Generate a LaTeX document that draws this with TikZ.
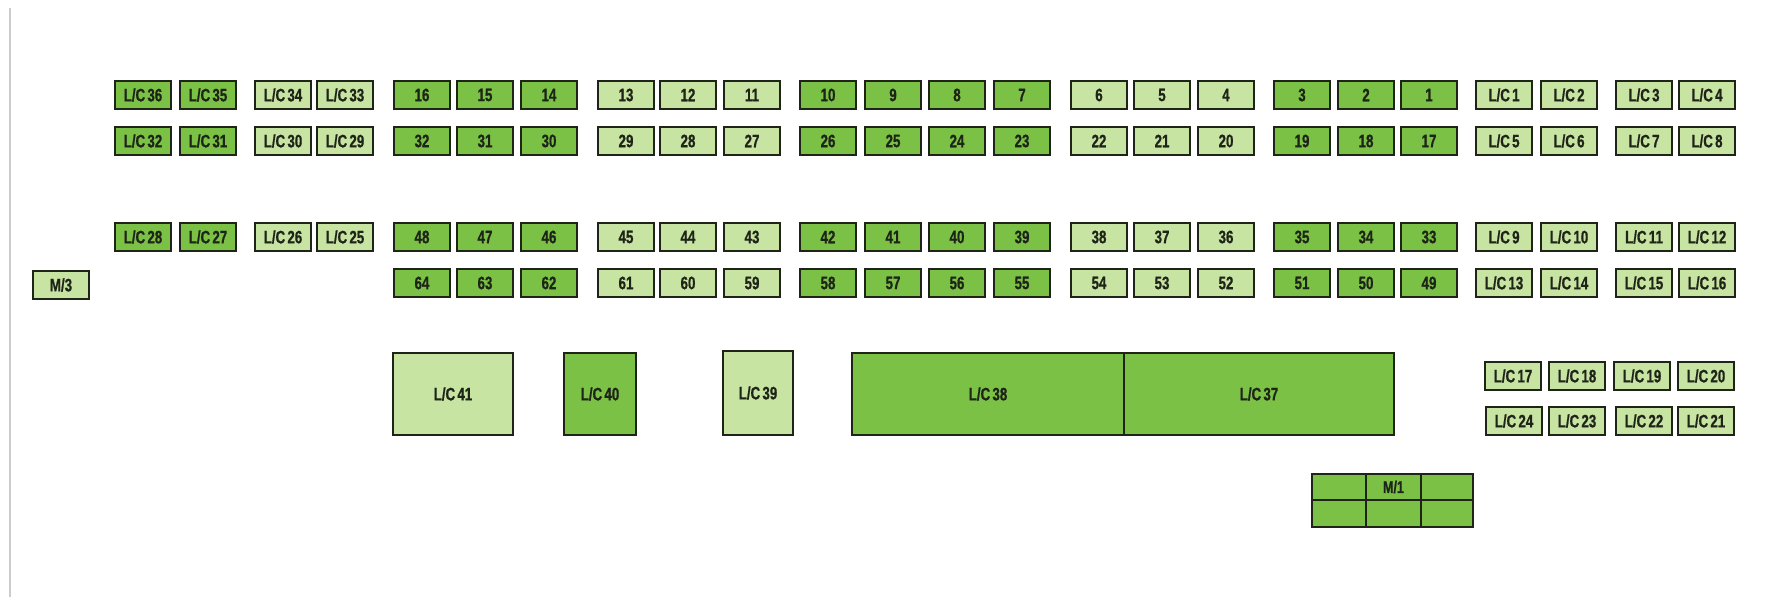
\documentclass[tikz,border=0pt]{standalone}
\usepackage{fontspec}
\setmainfont{Liberation Sans}[FakeStretch=0.74, WordSpace=0.6, BoldFeatures={FakeBold=0.8}]
\definecolor{dk}{HTML}{7BC145}
\definecolor{lt}{HTML}{C8E4A2}
\definecolor{ink}{HTML}{1E2418}
\tikzset{
  fbox/.style={draw=ink, line width=2pt, anchor=north west, minimum width=56pt, minimum height=28pt,
    inner sep=0pt, text=ink, font=\fontsize{18}{19}\selectfont\bfseries},
  bigbox/.style={draw=ink, line width=2pt, anchor=north west, inner sep=0pt, text=ink,
    font=\fontsize{18}{19}\selectfont\bfseries},
  cell/.style={draw=ink, line width=2pt, anchor=north west, inner sep=0pt, fill=dk, text=ink,
    font=\fontsize{17}{18}\selectfont\bfseries}
}
\newcommand\fb[5]{\node[fbox,fill=#4] (#1) at (#2,#3) {#5};}
\begin{document}
\begin{tikzpicture}[x=1pt,y=-1pt]
\useasboundingbox (0,0) rectangle (1782,597);
\draw[gray!40, line width=1.2pt] (10,8) -- (10,597);
% row 1
\fb{lc36}{114}{80}{dk}{L/C 36}
\fb{lc35}{179}{80}{dk}{L/C 35}
\fb{lc34}{254}{80}{lt}{L/C 34}
\fb{lc33}{316}{80}{lt}{L/C 33}
\fb{f16}{393}{80}{dk}{16}
\fb{f15}{456}{80}{dk}{15}
\fb{f14}{520}{80}{dk}{14}
\fb{f13}{597}{80}{lt}{13}
\fb{f12}{659}{80}{lt}{12}
\fb{f11}{723}{80}{lt}{11}
\fb{f10}{799}{80}{dk}{10}
\fb{f9}{864}{80}{dk}{9}
\fb{f8}{928}{80}{dk}{8}
\fb{f7}{993}{80}{dk}{7}
\fb{f6}{1070}{80}{lt}{6}
\fb{f5}{1133}{80}{lt}{5}
\fb{f4}{1197}{80}{lt}{4}
\fb{f3}{1273}{80}{dk}{3}
\fb{f2}{1337}{80}{dk}{2}
\fb{f1}{1400}{80}{dk}{1}
\fb{lc1}{1475}{80}{lt}{L/C 1}
\fb{lc2}{1540}{80}{lt}{L/C 2}
\fb{lc3}{1615}{80}{lt}{L/C 3}
\fb{lc4}{1678}{80}{lt}{L/C 4}
% row 2
\fb{lc32}{114}{126}{dk}{L/C 32}
\fb{lc31}{179}{126}{dk}{L/C 31}
\fb{lc30}{254}{126}{lt}{L/C 30}
\fb{lc29}{316}{126}{lt}{L/C 29}
\fb{f32}{393}{126}{dk}{32}
\fb{f31}{456}{126}{dk}{31}
\fb{f30}{520}{126}{dk}{30}
\fb{f29}{597}{126}{lt}{29}
\fb{f28}{659}{126}{lt}{28}
\fb{f27}{723}{126}{lt}{27}
\fb{f26}{799}{126}{dk}{26}
\fb{f25}{864}{126}{dk}{25}
\fb{f24}{928}{126}{dk}{24}
\fb{f23}{993}{126}{dk}{23}
\fb{f22}{1070}{126}{lt}{22}
\fb{f21}{1133}{126}{lt}{21}
\fb{f20}{1197}{126}{lt}{20}
\fb{f19}{1273}{126}{dk}{19}
\fb{f18}{1337}{126}{dk}{18}
\fb{f17}{1400}{126}{dk}{17}
\fb{lc5}{1475}{126}{lt}{L/C 5}
\fb{lc6}{1540}{126}{lt}{L/C 6}
\fb{lc7}{1615}{126}{lt}{L/C 7}
\fb{lc8}{1678}{126}{lt}{L/C 8}
% row 3
\fb{lc28}{114}{222}{dk}{L/C 28}
\fb{lc27}{179}{222}{dk}{L/C 27}
\fb{lc26}{254}{222}{lt}{L/C 26}
\fb{lc25}{316}{222}{lt}{L/C 25}
\fb{f48}{393}{222}{dk}{48}
\fb{f47}{456}{222}{dk}{47}
\fb{f46}{520}{222}{dk}{46}
\fb{f45}{597}{222}{lt}{45}
\fb{f44}{659}{222}{lt}{44}
\fb{f43}{723}{222}{lt}{43}
\fb{f42}{799}{222}{dk}{42}
\fb{f41}{864}{222}{dk}{41}
\fb{f40}{928}{222}{dk}{40}
\fb{f39}{993}{222}{dk}{39}
\fb{f38}{1070}{222}{lt}{38}
\fb{f37}{1133}{222}{lt}{37}
\fb{f36}{1197}{222}{lt}{36}
\fb{f35}{1273}{222}{dk}{35}
\fb{f34}{1337}{222}{dk}{34}
\fb{f33}{1400}{222}{dk}{33}
\fb{lc9}{1475}{222}{lt}{L/C 9}
\fb{lc10}{1540}{222}{lt}{L/C 10}
\fb{lc11}{1615}{222}{lt}{L/C 11}
\fb{lc12}{1678}{222}{lt}{L/C 12}
% row 4
\fb{m3}{32}{270}{lt}{M/3}
\fb{f64}{393}{268}{dk}{64}
\fb{f63}{456}{268}{dk}{63}
\fb{f62}{520}{268}{dk}{62}
\fb{f61}{597}{268}{lt}{61}
\fb{f60}{659}{268}{lt}{60}
\fb{f59}{723}{268}{lt}{59}
\fb{f58}{799}{268}{dk}{58}
\fb{f57}{864}{268}{dk}{57}
\fb{f56}{928}{268}{dk}{56}
\fb{f55}{993}{268}{dk}{55}
\fb{f54}{1070}{268}{lt}{54}
\fb{f53}{1133}{268}{lt}{53}
\fb{f52}{1197}{268}{lt}{52}
\fb{f51}{1273}{268}{dk}{51}
\fb{f50}{1337}{268}{dk}{50}
\fb{f49}{1400}{268}{dk}{49}
\fb{lc13}{1475}{268}{lt}{L/C 13}
\fb{lc14}{1540}{268}{lt}{L/C 14}
\fb{lc15}{1615}{268}{lt}{L/C 15}
\fb{lc16}{1678}{268}{lt}{L/C 16}
% big relays
\node[bigbox, fill=lt, minimum width=120pt, minimum height=82pt] (lc41) at (392,352) {L/C 41};
\node[bigbox, fill=dk, minimum width=72pt, minimum height=82pt] (lc40) at (563,352) {L/C 40};
\node[bigbox, fill=lt, minimum width=70pt, minimum height=84pt] (lc39) at (722,350) {L/C 39};
\node[bigbox, fill=dk, minimum width=272pt, minimum height=82pt] (lc38) at (851,352) {L/C 38};
\node[bigbox, fill=dk, minimum width=270pt, minimum height=82pt] (lc37) at (1123,352) {L/C 37};
% right lower cluster
\fb{lc17}{1484}{361}{lt}{L/C 17}
\fb{lc18}{1548}{361}{lt}{L/C 18}
\fb{lc19}{1613}{361}{lt}{L/C 19}
\fb{lc20}{1677}{361}{lt}{L/C 20}
\fb{lc24}{1485}{406}{lt}{L/C 24}
\fb{lc23}{1548}{406}{lt}{L/C 23}
\fb{lc22}{1615}{406}{lt}{L/C 22}
\fb{lc21}{1677}{406}{lt}{L/C 21}
% M/1 block
\node[cell, minimum width=54pt, minimum height=26pt] (m1a) at (1311,473) {};
\node[cell, minimum width=55pt, minimum height=26pt] (m1b) at (1365,473) {M/1};
\node[cell, minimum width=52pt, minimum height=26pt] (m1c) at (1420,473) {};
\node[cell, minimum width=54pt, minimum height=27pt] (m1d) at (1311,499) {};
\node[cell, minimum width=55pt, minimum height=27pt] (m1e) at (1365,499) {};
\node[cell, minimum width=52pt, minimum height=27pt] (m1f) at (1420,499) {};
\end{tikzpicture}
\end{document}
